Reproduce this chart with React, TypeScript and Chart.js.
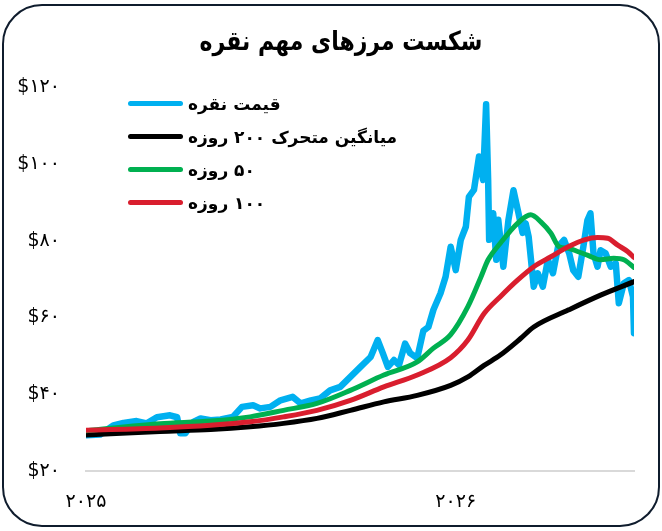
import React, { useEffect, useRef } from 'react';
import { Chart, registerables } from 'chart.js';

Chart.register(...registerables);

// ---- Data (x = days since start of 2025) ----
const priceDays = [0,14,27,37,50,60,70,83,90,93,98,106,113,123,133,145,154,165,172,182,192,204,212,222,231,241,251,261,271,281,288,293,298,304,309,315,320,327,333,338,343,350,355,360,365,370,375,378,383,388,392,395,397,398,402,405,407,412,417,422,427,431,434,437,442,446,451,456,461,466,472,477,481,486,491,495,498,501,505,508,513,518,523,526,531,536,540,541];
const priceValues = [29.3,29.5,31.9,32.5,33,32.4,34,34.5,34,29.8,29.8,32.8,33.7,33.2,33.4,34.1,36.7,37.1,36.3,36.7,38.4,39.3,37.6,38.4,38.9,41,41.9,44.5,47.1,49.7,54.1,50.7,47.1,48.9,47.6,53.2,50.7,49.4,56.5,57.5,62,66.3,70.6,78.4,72.3,80.2,83.6,91.4,93.2,101.9,95.8,115.5,95.8,80.2,87.1,75,85.4,73.2,85.3,93.1,87.1,82,84.5,81,68,71.5,68,75,71.5,78.4,80.2,76.7,72.3,70.6,78.4,85.3,87.1,76.7,73.2,77.5,76.7,73.2,74.1,63.7,68.9,69.7,65.4,55.9];

const ma200Days = [0,73,123,162,195,228,261,294,327,360,377,393,409,429,442,476,508,541];
const ma200Values = [29.4,30.3,30.8,31.5,32.4,33.7,35.8,38,39.7,42.3,44.5,47.5,50.2,54.5,57.5,61.9,65.8,69.3];

const ma50Days = [0,73,123,162,195,228,261,294,327,343,360,377,390,397,409,426,439,449,459,467,476,486,495,508,521,531,541];
const ma50Values = [30.5,32.3,33,34.1,35.8,37.6,41,45,48.4,52,55.5,62.8,70.6,75,79.3,84.5,86.7,84.9,81.9,78.4,78,77.1,76.2,75,75.4,75,73];

const ma100Days = [0,73,123,162,195,228,261,294,327,360,377,393,409,426,442,459,476,492,505,515,525,535,541];
const ma100Values = [30.6,31.2,31.9,32.8,34.1,35.8,38.4,41.9,45,49.5,54.1,61,65.4,69.7,73.2,75.8,78.4,80.2,80.8,80.6,78.8,77.1,75.6];

const xTickDays = [0, 365];
const xTickLabels = ['۲۰۲۵', '۲۰۲۶'];
const yTicks = [20, 40, 60, 80, 100, 120];

const titleText = 'شکست مرزهای مهم نقره';
const seriesNames = ['قیمت نقره', 'میانگین متحرک ۲۰۰ روزه', '۵۰ روزه', '۱۰۰ روزه'];
const seriesColors = ['#00b0f0', '#000000', '#00b050', '#d91e2e'];

const faDigits = '۰۱۲۳۴۵۶۷۸۹';
const toFa = (n: number | string) => String(n).replace(/\d/g, (d) => faDigits[+d]);
const pts = (xs: number[], ys: number[]) => xs.map((x, i) => ({ x, y: ys[i] }));

const FONT = "'DejaVu Sans', sans-serif";

export default function App() {
  const ref = useRef<HTMLCanvasElement>(null);

  useEffect(() => {
    Chart.defaults.font.family = FONT;
    const chart = new Chart(ref.current as HTMLCanvasElement, {
      type: 'line',
      data: {
        datasets: [
          { label: seriesNames[0], data: pts(priceDays, priceValues), borderColor: seriesColors[0], borderWidth: 6.5, pointRadius: 0, tension: 0, borderJoinStyle: 'round', borderCapStyle: 'round', order: 3 },
          { label: seriesNames[1], data: pts(ma200Days, ma200Values), borderColor: seriesColors[1], borderWidth: 5, pointRadius: 0, cubicInterpolationMode: 'monotone', borderCapStyle: 'round', order: 2 },
          { label: seriesNames[2], data: pts(ma50Days, ma50Values), borderColor: seriesColors[2], borderWidth: 5, pointRadius: 0, cubicInterpolationMode: 'monotone', borderCapStyle: 'round', order: 1 },
          { label: seriesNames[3], data: pts(ma100Days, ma100Values), borderColor: seriesColors[3], borderWidth: 5, pointRadius: 0, cubicInterpolationMode: 'monotone', borderCapStyle: 'round', order: 0 },
        ],
      } as any,
      options: {
        animation: false,
        responsive: false,
        maintainAspectRatio: false,
        layout: { padding: { top: 87, right: 28, bottom: 20, left: 0 } },
        plugins: {
          legend: { display: false },
          title: { display: false },
          tooltip: { enabled: false },
        },
        scales: {
          x: {
            type: 'linear',
            min: 0,
            max: 541,
            grid: { display: false, drawTicks: false },
            border: { display: true, color: '#d9d9d9', width: 2 },
            afterBuildTicks: (s: any) => {
              s.ticks = xTickDays.map((v) => ({ value: v }));
            },
            afterFit: (s: any) => {
              s.height = 40;
            },
            ticks: {
              padding: 20,
              maxRotation: 0,
              autoSkip: false,
              color: '#000',
              font: { family: FONT, size: 19 },
              callback: (v: any) => {
                const i = xTickDays.indexOf(Number(v));
                return i >= 0 ? xTickLabels[i] : '';
              },
            },
          },
          y: {
            min: 20,
            max: 120,
            afterFit: (s: any) => {
              s.width = 86;
            },
            afterBuildTicks: (s: any) => {
              s.ticks = yTicks.map((v) => ({ value: v }));
            },
            grid: { display: false, drawTicks: false },
            border: { display: false },
            ticks: {
              padding: 26,
              color: '#000',
              font: { family: FONT, size: 19 },
              callback: (v: any) => '$' + toFa(v),
            },
          },
        },
      } as any,
    });
    return () => chart.destroy();
  }, []);

  return (
    <div style={{ position: 'absolute', left: 0, top: 0, width: 662, height: 531, background: '#fff', overflow: 'hidden' }}>
      <canvas ref={ref} width={662} height={531} style={{ position: 'absolute', left: 0, top: 0, display: 'block' }} />
      <div
        style={{
          position: 'absolute', left: 2, top: 4, width: 658, height: 523, boxSizing: 'border-box',
          border: '2.5px solid #0f1c2d', borderRadius: 40, pointerEvents: 'none',
        }}
      />
      <div
        dir="rtl"
        style={{
          position: 'absolute', left: 10, top: 26, width: 662, height: 32, lineHeight: '32px',
          textAlign: 'center', fontFamily: FONT, fontWeight: 'bold', fontSize: 22, color: '#000',
          transform: 'scaleY(1.2)',
        }}
      >
        {titleText}
      </div>
      <div style={{ position: 'absolute', left: 128, top: 87, fontFamily: FONT }}>
        {seriesNames.map((name, i) => (
          <div key={i} style={{ display: 'flex', alignItems: 'center', height: 33, direction: 'ltr' }}>
            <span style={{ display: 'inline-block', width: 55, height: 5, borderRadius: 3, background: seriesColors[i] }} />
            <span dir="rtl" style={{ marginLeft: 5, fontWeight: 'bold', fontSize: 17, color: '#000', whiteSpace: 'nowrap' }}>
              {name}
            </span>
          </div>
        ))}
      </div>
    </div>
  );
}
